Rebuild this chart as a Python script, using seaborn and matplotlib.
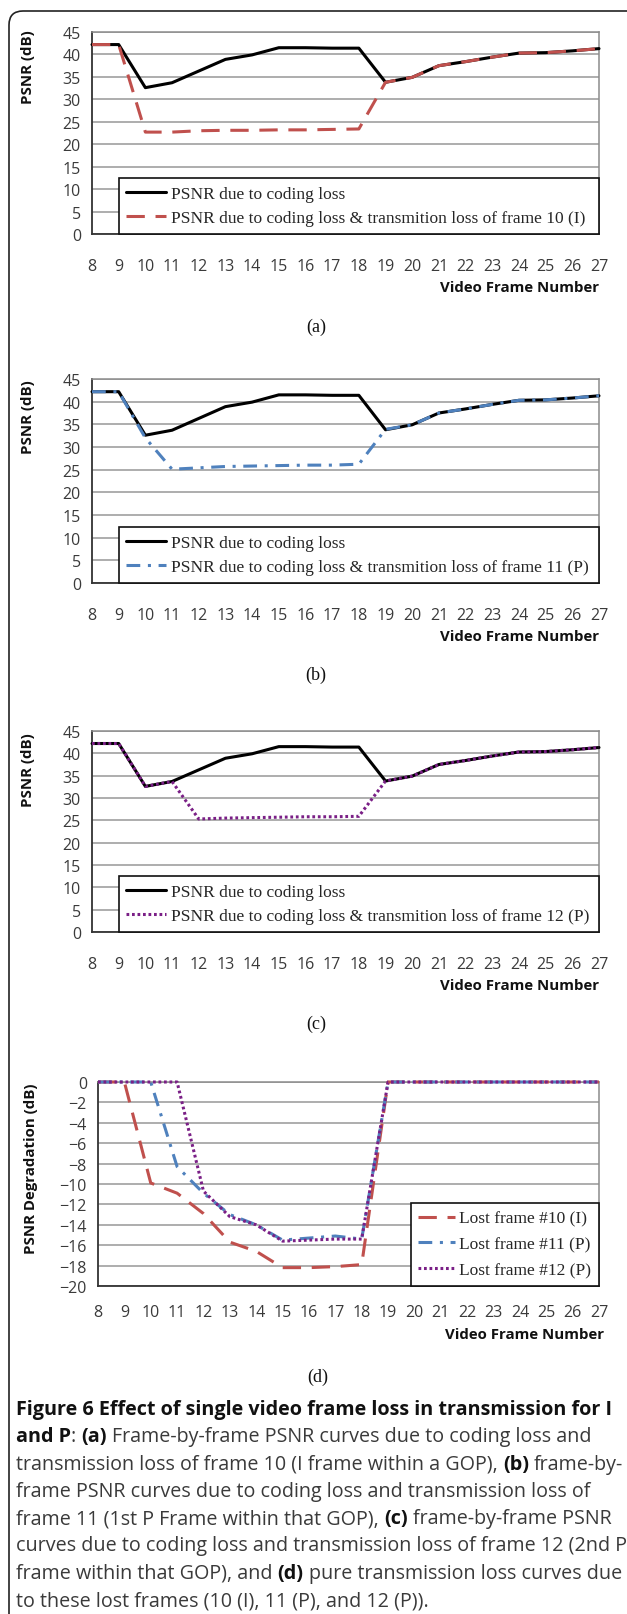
import numpy as np
import pandas as pd
import seaborn as sns
import matplotlib
matplotlib.use("Agg")
import matplotlib.pyplot as plt
from matplotlib.lines import Line2D
from matplotlib.patches import FancyBboxPatch

# ---------------- data ----------------
frames = list(range(8, 28))
psnr_coding = [42.2, 42.2, 32.6, 33.7, 36.3, 38.9, 39.9, 41.5, 41.5, 41.4,
               41.4, 33.8, 34.9, 37.5, 38.4, 39.4, 40.3, 40.4, 40.8, 41.3]
psnr_loss10 = [42.2, 42.2, 22.7, 22.7, 23.0, 23.1, 23.1, 23.2, 23.2, 23.3,
               23.4, 33.8, 34.9, 37.5, 38.4, 39.4, 40.3, 40.4, 40.8, 41.3]
psnr_loss11 = [42.2, 42.2, 32.0, 25.1, 25.4, 25.7, 25.8, 25.9, 26.0, 26.0,
               26.2, 33.9, 34.9, 37.5, 38.4, 39.4, 40.3, 40.4, 40.8, 41.3]
psnr_loss12 = [42.2, 42.2, 32.6, 33.7, 25.3, 25.5, 25.6, 25.7, 25.8, 25.8,
               25.9, 33.8, 34.9, 37.5, 38.4, 39.4, 40.3, 40.4, 40.8, 41.3]
deg_10 = [0, 0, -9.9, -10.9, -12.9, -15.7, -16.6, -18.2, -18.2, -18.1,
          -17.9, 0, 0, 0, 0, 0, 0, 0, 0, 0]
deg_11 = [0, 0, 0, -8.3, -10.9, -13.0, -14.0, -15.5, -15.3, -15.1,
          -15.4, 0, 0, 0, 0, 0, 0, 0, 0, 0]
deg_12 = [0, 0, 0, 0, -10.7, -13.2, -14.0, -15.6, -15.5, -15.4,
          -15.4, 0, 0, 0, 0, 0, 0, 0, 0, 0]

psnr_ticks = list(range(0, 50, 5))
deg_ticks = list(range(-20, 2, 2))

label_coding = "PSNR due to coding loss"
label_a = "PSNR due to coding loss & transmition loss of frame 10 (I)"
label_b = "PSNR due to coding loss & transmition loss of frame 11 (P)"
label_c = "PSNR due to coding loss & transmition loss of frame 12 (P)"
label_d = ["Lost frame #10 (I)", "Lost frame #11 (P)", "Lost frame #12 (P)"]
panel_tags = ["(a)", "(b)", "(c)", "(d)"]
xlabel = "Video Frame Number"
ylabel_psnr = "PSNR (dB)"
ylabel_deg = "PSNR Degradation (dB)"

caption_lines = [
    [("Figure 6 Effect of single video frame loss in transmission for I", True)],
    [("and P", True), (":", False), (" ", False), ("(a)", True),
     (" Frame-by-frame PSNR curves due to coding loss and", False)],
    [("transmission loss of frame 10 (I frame within a GOP),", False), (" ", False),
     ("(b)", True), (" frame-by-", False)],
    [("frame PSNR curves due to coding loss and transmission loss of", False)],
    [("frame 11 (1st P Frame within that GOP),", False), (" ", False), ("(c)", True),
     (" frame-by-frame PSNR", False)],
    [("curves due to coding loss and transmission loss of frame 12 (2nd P", False)],
    [("frame within that GOP), and", False), (" ", False), ("(d)", True),
     (" pure transmission loss curves due", False)],
    [("to these lost frames (10 (I), 11 (P), and 12 (P)).", False)],
]

# ---------------- style ----------------
sns.set_theme(style="white")
plt.rcParams["font.family"] = ["Open Sans", "DejaVu Sans"]

RED = "#C0504D"
BLUE = "#4F81BD"
PURPLE = "#7A1F86"
BLACK = "#000000"
LW = 2.2

styles = {
    "coding": dict(color=BLACK, lw=LW, ls="-"),
    "l10": dict(color=RED, lw=LW, ls=(0, (6, 3.5))),
    "l11": dict(color=BLUE, lw=LW, ls=(0, (4.5, 2.5, 1, 2.5))),
    "l12": dict(color=PURPLE, lw=LW, ls=(0, (0.9, 0.9))),
}

W, H = 627, 1615
fig = plt.figure(figsize=(W / 100, H / 100), dpi=100)

# background frame + caption layer (pixel coordinates)
bg = fig.add_axes([0, 0, 1, 1], zorder=-5)
bg.set_xlim(0, W)
bg.set_ylim(H, 0)
bg.axis("off")
bg.add_patch(FancyBboxPatch((9, 12), W + 40, H + 40,
                            boxstyle="round,pad=0,rounding_size=14",
                            fc="white", ec="#222222", lw=1.2))


def rect(l, t, r, b):
    return [l / W, 1 - b / H, (r - l) / W, (b - t) / H]


def style_axes(ax, yticks, ylim):
    ax.set_xlim(8, 27)
    ax.set_ylim(*ylim)
    ax.set_xticks(frames)
    ax.set_yticks(yticks)
    ax.yaxis.grid(True, color="#A0A0A0", lw=1.2)
    ax.xaxis.grid(False)
    ax.set_axisbelow(True)
    for s in ["left", "bottom"]:
        ax.spines[s].set_color("#333333")
        ax.spines[s].set_linewidth(1.3)
    for s in ["top", "right"]:
        ax.spines[s].set_color("#8C8C8C")
        ax.spines[s].set_linewidth(1.1)
    ax.tick_params(axis="both", direction="inout", length=6, width=1.1,
                   color="#333333", labelsize=11.5, labelcolor="#3A3A3A")
    ax.tick_params(axis="x", pad=14)
    ax.tick_params(axis="y", pad=5)


def draw(ax, y, key):
    st = styles[key]
    sns.lineplot(x=frames, y=y, ax=ax, color=st["color"], linewidth=st["lw"],
                 linestyle=st["ls"], clip_on=False, zorder=3)


def handle(key):
    st = styles[key]
    return Line2D([], [], color=st["color"], lw=st["lw"], ls=st["ls"])


legend_font = dict(family="Liberation Serif", size=12.5)

rects = [(92, 33, 599, 235), (92, 380, 599, 584), (92, 732, 599, 933)]
loss_series = [(psnr_loss10, "l10", label_a), (psnr_loss11, "l11", label_b),
               (psnr_loss12, "l12", label_c)]
ylab_pos = [0.83, 0.82, 0.81]
tag_y = [327, 675, 1024]

for i, (r, (ser, key, lab)) in enumerate(zip(rects, loss_series)):
    ax = fig.add_axes(rect(*r))
    style_axes(ax, psnr_ticks, (0, 45))
    draw(ax, psnr_coding, "coding")
    draw(ax, ser, key)
    leg = ax.legend([handle("coding"), handle(key)], [label_coding, lab],
                    loc="lower left", bbox_to_anchor=(1 / 19, 0, 18 / 19, 0.29),
                    mode="expand", prop=legend_font, frameon=True, fancybox=False,
                    edgecolor="#111111", framealpha=1, borderaxespad=0,
                    handlelength=2.3, handletextpad=0.25, labelspacing=0.45,
                    borderpad=0.45)
    leg.get_frame().set_linewidth(1.2)
    leg.set_zorder(5)
    ax.set_ylabel(ylabel_psnr, fontsize=10.8, fontweight="bold", color="#111111")
    ax.yaxis.set_label_coords(-0.112, ylab_pos[i])
    ax.set_xlabel(xlabel, fontsize=10.8, fontweight="bold", color="#111111")
    ax.xaxis.label.set_horizontalalignment("right")
    ax.xaxis.label.set_verticalalignment("center")
    ax.xaxis.set_label_coords(1.0, -0.262)
    bg.text(316, tag_y[i], panel_tags[i], ha="center", va="center",
            family="Liberation Serif", fontsize=13, color="#111111")

# panel d
axd = fig.add_axes(rect(98, 1083, 599, 1287))
style_axes(axd, deg_ticks, (-20, 0))
axd.tick_params(axis="x", pad=10)
draw(axd, deg_10, "l10")
draw(axd, deg_11, "l11")
draw(axd, deg_12, "l12")
legd = axd.legend([handle("l10"), handle("l11"), handle("l12")], label_d,
                  loc="lower right", bbox_to_anchor=(1, 0), prop=legend_font,
                  frameon=True, fancybox=False, edgecolor="#111111", framealpha=1,
                  borderaxespad=0, handlelength=2.1, handletextpad=0.25,
                  labelspacing=0.55, borderpad=0.45)
legd.get_frame().set_linewidth(1.2)
legd.set_zorder(5)
axd.set_ylabel(ylabel_deg, fontsize=10.8, fontweight="bold", color="#111111")
axd.yaxis.set_label_coords(-0.12, 0.58)
axd.set_xlabel(xlabel, fontsize=10.8, fontweight="bold", color="#111111")
axd.xaxis.label.set_horizontalalignment("right")
axd.xaxis.label.set_verticalalignment("center")
axd.xaxis.set_label_coords(1.01, -0.235)
bg.text(318, 1377, panel_tags[3], ha="center", va="center",
        family="Liberation Serif", fontsize=13, color="#111111")

# ---------------- caption ----------------
renderer = fig.canvas.get_renderer()
cap_size = 14.2


def text_width(s, bold):
    t = bg.text(0, 0, s, fontsize=cap_size, fontweight="bold" if bold else "normal")
    w = t.get_window_extent(renderer=renderer).width
    t.remove()
    return w


space_w = {b: text_width("x x", b) - text_width("xx", b) for b in (True, False)}

x0, y0, dy = 16, 1410, 27.3
for li, segs in enumerate(caption_lines):
    x = x0
    y = y0 + li * dy
    for s, bold in segs:
        lead = len(s) - len(s.lstrip(" "))
        x += lead * space_w[bold]
        core = s.strip(" ")
        if core:
            t = bg.text(x, y, core, fontsize=cap_size,
                        fontweight="bold" if bold else "normal",
                        color="#111111" if bold else "#3A3A3A",
                        ha="left", va="center")
            x += t.get_window_extent(renderer=renderer).width

fig.savefig("out.png", dpi=100)
